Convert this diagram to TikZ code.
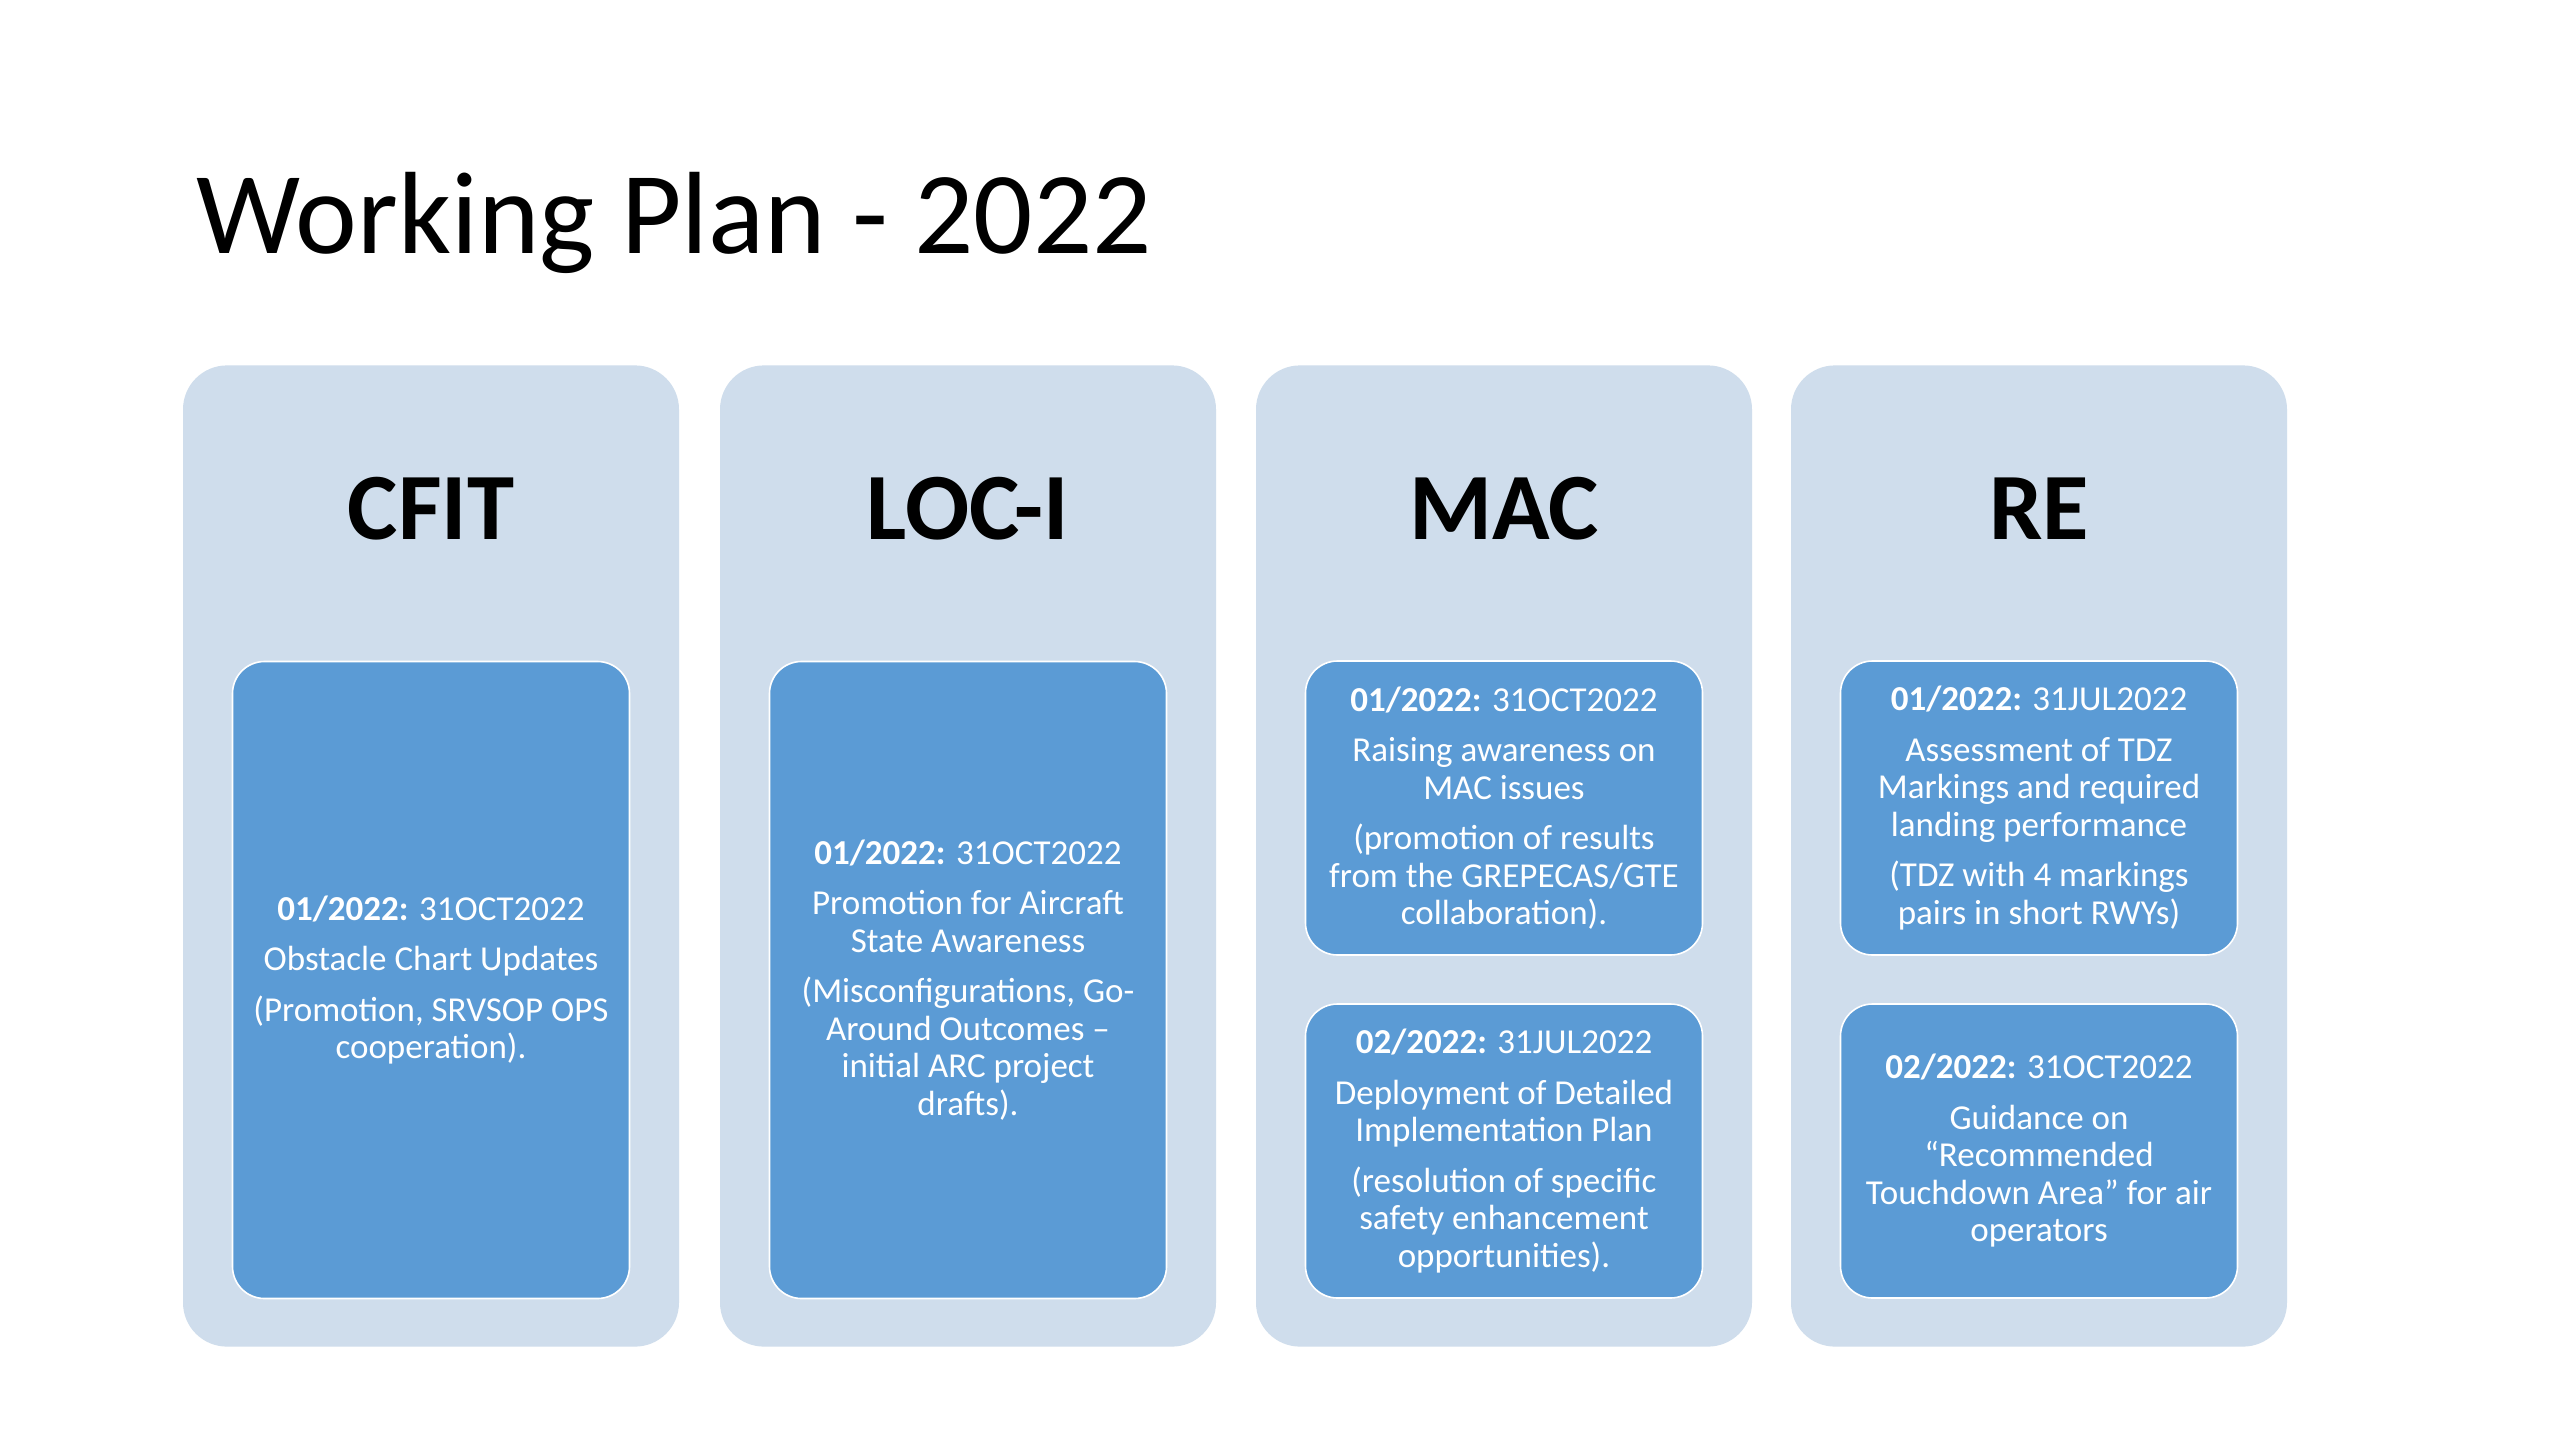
\documentclass[tikz,border=0pt]{standalone}
\usepackage{fontspec}
\setmainfont{Carlito}
\definecolor{outerbg}{HTML}{CFDDEC}
\definecolor{innerbg}{HTML}{5B9BD5}
\begin{document}
\begin{tikzpicture}[x=0.5pt,y=-0.5pt,
  colbox/.style={fill=outerbg, draw=none, rounded corners=22pt, minimum width=248pt, minimum height=490.6pt, inner sep=0pt},
  taskbox/.style={fill=innerbg, draw=white, line width=0.8pt, rounded corners=16pt, minimum width=198.5pt, inner sep=0pt},
  fulltask/.style={taskbox, minimum height=318.5pt},
  halftask/.style={taskbox, minimum height=147pt},
  head/.style={font=\fontsize{47.5}{57}\selectfont\bfseries, text=black, inner sep=0pt},
  tasktext/.style={text=white, align=center, inner sep=0pt, font=\fontsize{17.5}{18.75}\selectfont}
]
\useasboundingbox (0,0) rectangle (2560,1440);
\fill[white] (0,0) rectangle (2560,1440);

\node[anchor=base west, inner sep=0pt, font=\fontsize{58.5}{70}\selectfont] (title) at (196,253) {Working Plan - 2022};

% columns
\node[colbox] (c1) at (431,856) {};
\node[colbox] (c2) at (968,856) {};
\node[colbox] (c3) at (1504,856) {};
\node[colbox] (c4) at (2039,856) {};

\node[head] (h1) at (431,509) {CFIT};
\node[head] (h2) at (968,509) {LOC-I};
\node[head] (h3) at (1504,509) {MAC};
\node[head] (h4) at (2039,509) {RE};

% task boxes
\node[fulltask] (t1) at (431,980) {};
\node[fulltask] (t2) at (968,980) {};
\node[halftask] (t3a) at (1504,808) {};
\node[halftask] (t3b) at (1504,1151) {};
\node[halftask] (t4a) at (2039,808) {};
\node[halftask] (t4b) at (2039,1151) {};

\node[tasktext] (x1) at (t1.center) {\textbf{01/2022:} 31OCT2022\\[6.5pt]
Obstacle Chart Updates\\[6.5pt]
(Promotion, SRVSOP OPS\\cooperation).};

\node[tasktext] (x2) at (t2.center) {\textbf{01/2022:} 31OCT2022\\[6.5pt]
Promotion for Aircraft\\State Awareness\\[6.5pt]
(Misconfigurations, Go-\\Around Outcomes –\\initial ARC project\\drafts).};

\node[tasktext] (x3a) at (t3a.center) {\textbf{01/2022:} 31OCT2022\\[6.5pt]
Raising awareness on\\MAC issues\\[6.5pt]
(promotion of results\\from the GREPECAS/GTE\\collaboration).};

\node[tasktext] (x3b) at (t3b.center) {\textbf{02/2022:} 31JUL2022\\[6.5pt]
Deployment of Detailed\\Implementation Plan\\[6.5pt]
(resolution of specific\\safety enhancement\\opportunities).};

\node[tasktext] (x4a) at (t4a.center) {\textbf{01/2022:} 31JUL2022\\[6.5pt]
Assessment of TDZ\\Markings and required\\landing performance\\[6.5pt]
(TDZ with 4 markings\\pairs in short RWYs)};

\node[tasktext] (x4b) at (t4b.center) {\textbf{02/2022:} 31OCT2022\\[6.5pt]
Guidance on\\“Recommended\\Touchdown Area” for air\\operators};
\end{tikzpicture}
\end{document}
